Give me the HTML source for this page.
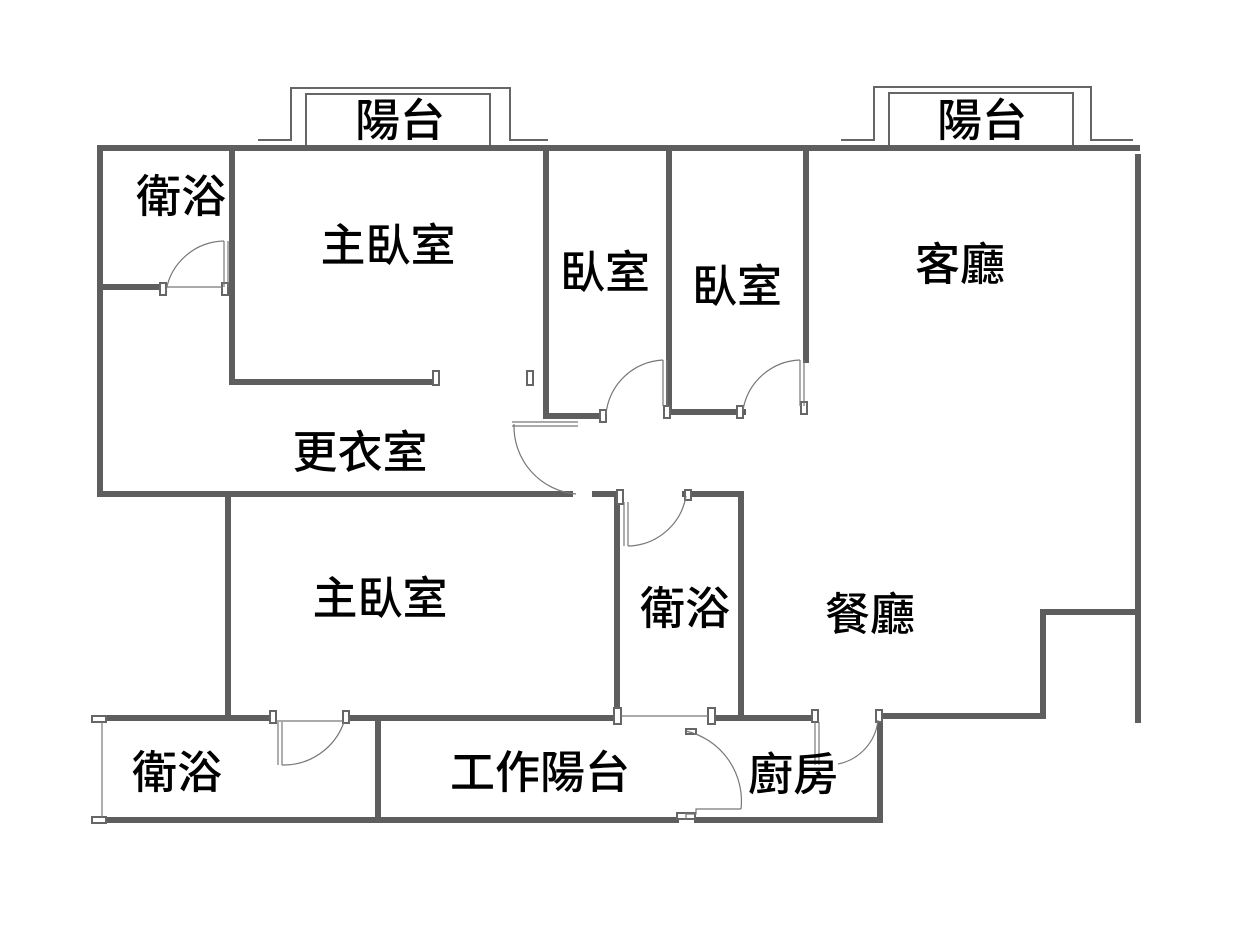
<!DOCTYPE html>
<html><head><meta charset="utf-8"><style>
html,body{margin:0;padding:0;background:#fff;}
svg{display:block;}
text{font-family:"Liberation Sans","Noto Sans CJK TC",sans-serif;font-size:45px;font-weight:500;fill:#000;text-anchor:middle;}
</style></head><body>
<svg width="1252" height="938" viewBox="0 0 1252 938" xmlns="http://www.w3.org/2000/svg">
<g stroke="#5e5e5e" stroke-width="6" fill="none" stroke-linecap="square">
<path d="M100 148 H1137"/>
<path d="M100 148 V494"/>
<path d="M1138 157 V720"/>
<path d="M232 148 V382 H436"/>
<path d="M100 287 H160"/>
<path d="M546 152 V416 H598"/>
<path d="M669 152 V412 H743"/>
<path d="M806 152 V360"/>
<path d="M100 494 H570"/>
<path d="M595 494 H617"/>
<path d="M685 494 H741 V716"/>
<path d="M228 494 V716"/>
<path d="M617 494 V716"/>
<path d="M1043 612 H1137"/>
<path d="M1043 612 V716 H880 V818"/>
<path d="M100 718 H268"/>
<path d="M349 718 H612"/>
<path d="M716 718 H808"/>
<path d="M378 718 V818"/>
<path d="M100 820 H676"/>
<path d="M697 820 H880"/>
</g>
<g stroke="#666" stroke-width="2" fill="#fff">
<path d="M258 140 H291 V88 H510 V140 H548" fill="none"/>
<path d="M306 145 V94 H490 V145" fill="none"/>
<path d="M841 140 H874 V87 H1091 V140 H1133" fill="none"/>
<path d="M889 145 V93 H1073 V145" fill="none"/>
<rect x="160" y="283" width="6" height="12"/>
<rect x="222" y="283" width="6" height="12"/>
<rect x="433" y="371" width="6" height="14"/>
<rect x="527" y="371" width="6" height="14"/>
<rect x="600" y="410" width="6" height="12"/>
<rect x="664" y="406" width="6" height="12"/>
<rect x="737" y="406" width="6" height="12"/>
<rect x="801" y="402" width="6" height="12"/>
<rect x="617" y="490" width="6" height="14"/>
<rect x="685" y="490" width="6" height="10"/>
<rect x="270" y="711" width="6" height="12"/>
<rect x="343" y="711" width="6" height="12"/>
<rect x="614" y="708" width="7" height="16"/>
<rect x="708" y="708" width="7" height="16"/>
<rect x="812" y="710" width="6" height="12"/>
<rect x="876" y="710" width="6" height="12"/>
<rect x="92" y="716" width="14" height="6"/>
<rect x="92" y="817" width="14" height="6"/>
<rect x="677" y="813" width="18" height="6"/>
<rect x="686" y="729" width="10" height="5"/>
</g>
<g stroke="#777" stroke-width="1.2" fill="none">
<path d="M224 241 V287"/><path d="M228 241 V287"/>
<path d="M224 241 A60 60 0 0 0 166 291"/>
<path d="M166 287 H222"/>
<path d="M512 422 H578 M512 426 H578"/>
<path d="M514 424 A68 68 0 0 0 576 494"/>
<path d="M663 360 V406 M667 360 V406"/>
<path d="M663 360 A60 60 0 0 0 606 414"/>
<path d="M800 360 V406 M804 360 V406"/>
<path d="M800 360 A60 60 0 0 0 743 410"/>
<path d="M624 502 V546 M628 502 V546"/>
<path d="M628 546 A60 60 0 0 0 686 496"/>
<path d="M278 722 V765 M282 722 V765"/>
<path d="M282 765 A64 64 0 0 0 344 722"/>
<path d="M276 721 H343"/>
<path d="M621 716 H708"/>
<path d="M686 731 A72 72 0 0 1 741 809"/>
<path d="M741 809 H696 V814 H686 V820"/>
<path d="M815 722 V765"/><path d="M819 722 V765"/>
<path d="M838 764 A50 50 0 0 0 878 720"/>
<path d="M102 722 V818"/>
</g>
<text x="400" y="136">陽台</text>
<text x="982" y="136">陽台</text>
<text x="181" y="212">衛浴</text>
<text x="388" y="261">主臥室</text>
<text x="605" y="288">臥室</text>
<text x="737" y="302">臥室</text>
<text x="960" y="280">客廳</text>
<text x="360" y="468">更衣室</text>
<text x="380" y="614">主臥室</text>
<text x="685" y="624">衛浴</text>
<text x="870" y="630">餐廳</text>
<text x="177" y="788">衛浴</text>
<text x="540" y="788">工作陽台</text>
<text x="793" y="790">廚房</text>
</svg>
</body></html>
